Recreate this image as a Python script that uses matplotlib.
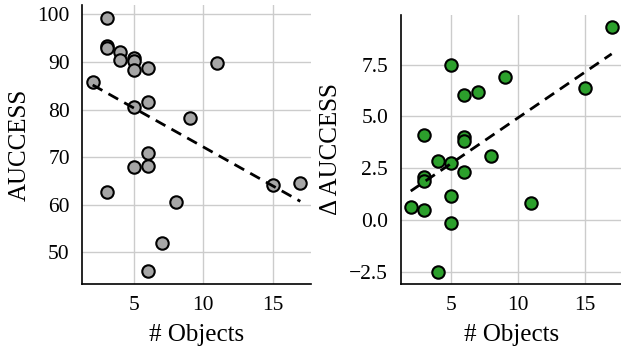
import numpy as np
import matplotlib
matplotlib.use("Agg")
import matplotlib.pyplot as plt

plt.rcParams['font.family'] = ['Liberation Serif', 'DejaVu Serif']

# Left panel: AUCCESS vs number of objects
left_x = [3, 3, 3, 4, 4, 5, 5, 5, 6, 11, 2, 5, 6, 9, 6, 5, 6, 3, 8, 7, 6, 15, 17]
left_y = [99.3, 93.3, 93.0, 92.0, 90.5, 90.8, 90.2, 88.4, 88.7, 89.8, 85.8, 80.5,
          81.5, 78.2, 70.8, 68.0, 68.2, 62.7, 60.6, 51.9, 46.0, 64.1, 64.6]

# Right panel: delta AUCCESS vs number of objects
right_x = [17, 5, 9, 6, 7, 15, 3, 6, 6, 4, 5, 8, 6, 3, 3, 5, 2, 3, 11, 5, 4]
right_y = [9.3, 7.5, 6.9, 6.04, 6.17, 6.36, 4.1, 4.01, 3.8, 2.84, 2.76, 3.08, 2.34,
           2.07, 1.87, 1.18, 0.63, 0.51, 0.83, -0.15, -2.48]

x_label = "# Objects"
left_ylabel = "AUCCESS"
right_ylabel = "Δ AUCCESS"
left_yticks = [50, 60, 70, 80, 90, 100]
right_yticks = [-2.5, 0.0, 2.5, 5.0, 7.5]
right_yticklabels = ['−2.5', '0.0', '2.5', '5.0', '7.5']

fig = plt.figure(figsize=(6.21, 3.53), dpi=100)
W, H = 621, 353
ax1 = fig.add_axes([82.3 / W, (H - 284) / H, 228.4 / W, 279 / H])
ax2 = fig.add_axes([400.7 / W, (H - 284) / H, 221 / W, 269 / H])


def panel(ax, xs, ys, color, ylabel, yticks):
    xs = np.asarray(xs, float)
    ys = np.asarray(ys, float)
    ax.set_axisbelow(True)
    ax.grid(True, color='#cccccc', linewidth=1.0)
    ax.scatter(xs, ys, s=80, c=color, edgecolors='black', linewidths=1.5, zorder=3)
    k, b = np.polyfit(xs, ys, 1)
    xx = np.array([xs.min(), xs.max()])
    ax.plot(xx, k * xx + b, '--', color='black', linewidth=2.0, dashes=(4, 2.5), zorder=4)
    for s in ['top', 'right']:
        ax.spines[s].set_visible(False)
    for s in ['left', 'bottom']:
        ax.spines[s].set_color('black')
        ax.spines[s].set_linewidth(1.2)
    ax.tick_params(length=0, labelsize=15.5, pad=9)
    ax.set_xticks([5, 10, 15])
    ax.set_yticks(yticks)
    ax.set_xlabel(x_label, fontsize=18, labelpad=6)
    ax.set_ylabel(ylabel, fontsize=18, labelpad=5)
    ax.margins(0.05)


panel(ax1, left_x, left_y, '#a6a6a6', left_ylabel, left_yticks)
panel(ax2, right_x, right_y, '#2ca02c', right_ylabel, right_yticks)
ax2.set_yticklabels(right_yticklabels)

fig.savefig("out.png", dpi=100)
